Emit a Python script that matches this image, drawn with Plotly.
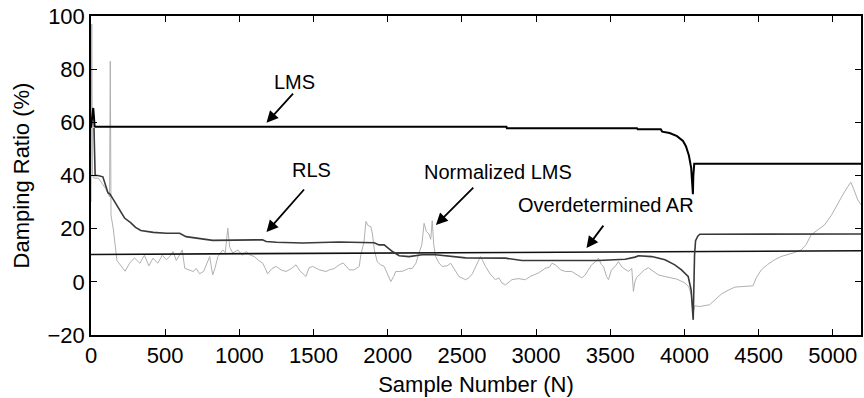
import plotly.graph_objects as go

# ---------------- data ----------------
lms_x = [0, 8, 15, 20, 24, 30, 2800, 2803, 3680, 3685, 3840, 3850, 3900, 3950,
         3990, 4010, 4030, 4045, 4052, 4057, 4060, 4063, 4066, 5190]
lms_y = [58, 62, 65.4, 62, 58.5, 58.3, 58.3, 57.8, 57.8, 57.4, 57.4, 56.5, 56, 54.8,
         53, 51, 47.5, 43, 38, 33, 40, 44.2, 44.4, 44.4]

rls_x = [20, 24, 28, 47, 80, 114, 128, 150, 181, 200, 226, 269, 300, 336, 420, 508,
         598, 640, 699, 820, 1156, 1181, 1250, 1425, 1673, 1909, 1942, 1976, 2032,
         2077, 2144, 2232, 2323, 2525, 2794, 2905, 3420, 3535, 3600, 3667, 3690,
         3780, 3869, 3935, 3980, 4025, 4045, 4059, 4063, 4068, 4075, 4090, 4103, 5190]
rls_y = [58, 45, 40, 40, 39.5, 33.5, 33, 31, 28.3, 26.5, 24, 22.2, 20.5, 19.3, 18.6, 18.3,
         18.3, 17, 16.5, 15.6, 15.8, 15.2, 14.9, 14.6, 15.0, 14.7, 13.9, 13.9, 11.4,
         9.8, 9.5, 10.2, 10.2, 9.0, 8.9, 8.0, 8.0, 8.3, 8.5, 9.3, 9.8,
         9.5, 8.3, 6.4, 4.5, 2.0, -3, -14.3, -2, 10, 15.5, 17.2, 17.9, 18.0]

ar_x = [0, 5190]
ar_y = [10.3, 11.7]

nlms_x = [0, 5, 10, 20, 50, 100, 125, 130, 135, 150, 175, 200, 230, 260, 293, 329,
          360, 390, 418, 450, 480, 508, 530, 553, 575, 598, 615, 632, 660, 688, 710,
          732, 760, 800, 810, 820, 835, 855, 888, 905, 922, 935, 956, 990, 1020, 1046,
          1075, 1102, 1130, 1158, 1175, 1190, 1220, 1248, 1280, 1315, 1350, 1382, 1410,
          1449, 1470, 1494, 1540, 1584, 1606, 1640, 1673, 1700, 1741, 1774, 1808, 1819,
          1840, 1853, 1870, 1886, 1897, 1910, 1929, 1950, 1976, 2000, 2021, 2040, 2054,
          2077, 2100, 2121, 2140, 2166, 2190, 2211, 2230, 2245, 2260, 2278, 2290, 2300,
          2310, 2323, 2345, 2367, 2400, 2424, 2450, 2480, 2525, 2547, 2570, 2592, 2610,
          2625, 2640, 2659, 2690, 2726, 2749, 2770, 2794, 2837, 2880, 2928, 2960, 2995,
          3018, 3062, 3090, 3107, 3130, 3166, 3197, 3240, 3270, 3308, 3330, 3353, 3374,
          3400, 3420, 3440, 3454, 3475, 3488, 3508, 3533, 3555, 3580, 3622, 3645, 3656,
          3666, 3676, 3700, 3730, 3757, 3790, 3824, 3870, 3911, 3950, 4003, 4030, 4046,
          4058, 4070, 4103, 4170, 4210, 4249, 4300, 4340, 4383, 4420, 4462, 4484, 4500,
          4518, 4560, 4608, 4650, 4698, 4740, 4787, 4820, 4854, 4900, 4944, 4990, 5034,
          5070, 5101, 5121, 5140, 5168, 5190]
nlms_y = [30, 97, 40, 39, 39, 35, 32, 83, 25, 20, 8, 6, 4, 7, 9, 7,
          10, 6, 8.9, 7, 10, 8.3, 9.5, 11.4, 8, 10.2, 12, 5.1, 4.5, 3.9, 5,
          3.0, 4, 9.5, 6, 2.6, 5, 9.5, 12, 11, 20.2, 13, 10.8, 12, 10, 11.4,
          10, 9.5, 8, 7, 5, 3, 5, 5.8, 4.5, 3.9, 5, 6.4, 4,
          2, 5.3, 5.8, 4.5, 3.9, 4.5, 5, 6.4, 7.1, 4.5, 4.5, 5.8, 10.2,
          15, 22.7, 21, 20.8, 18, 12, 7.6, 6.5, 5.8, 3, 0.1, 2, 3.9,
          3.9, 4, 4.5, 5, 5.1, 7, 10.8, 14, 22, 19, 18, 16, 23,
          14, 9.5, 7.1, 5.8, 6, 7, 4.5, 2, 0.8, 1.5, 3, 5.8, 8,
          9.5, 8, 5.8, 3, 0.8, 1.5, -0.5, -1.1, 0.8, 1.2, 0.8, 2, 3,
          3.4, 5.1, 5.5, 7, 6.4, 4.5, 3.9, 3.9, 2.8, 1.5, 2.5, 4.5, 6.4,
          7.5, 8.9, 6.5, 5.8, 2, 0.8, 4.5, 5.8, 7.6, 5.5, 3.9, 5, -3.6,
          0, 1.5, 3, 4.5, 5.3, 4, 2.6, 2, 1.5, 1, -0.4, -2, -5,
          -12, -9, -9.3, -8.6, -6.5, -4.6, -3, -2, -1.8, -1.6, -1.5, 1.5, 3,
          4.5, 6.5, 8.3, 9.5, 10.2, 11, 12, 14, 17.7, 19.5, 21.4, 25, 29.6,
          33, 35.8, 37.5, 35, 30.8, 29]

x_ticks = [0, 500, 1000, 1500, 2000, 2500, 3000, 3500, 4000, 4500, 5000]
y_ticks = [-20, 0, 20, 40, 60, 80, 100]

labels = ["LMS", "RLS", "Normalized LMS", "Overdetermined AR"]
label_pos = [(1371, 75.2), (1485, 42.1), (2742, 41.4), (3468, 28.9)]
arrow_tail = [(1371, 71.4), (1445, 35.3), (2587, 36.0), (3461, 21.7)]
arrow_head = [(1183, 59.8), (1183, 18.7), (2325, 21.4), (3340, 12.7)]

# ---------------- figure ----------------
FONT = "Arial, Liberation Sans, Helvetica, sans-serif"
fig = go.Figure()
fig.add_trace(go.Scatter(x=nlms_x, y=nlms_y, mode="lines",
                         line=dict(color="#b0b0b0", width=1), showlegend=False))
fig.add_trace(go.Scatter(x=ar_x, y=ar_y, mode="lines",
                         line=dict(color="#111111", width=1.6), showlegend=False))
fig.add_trace(go.Scatter(x=rls_x, y=rls_y, mode="lines",
                         line=dict(color="#3a3a3a", width=1.6), showlegend=False))
fig.add_trace(go.Scatter(x=lms_x, y=lms_y, mode="lines",
                         line=dict(color="#000000", width=2), showlegend=False))

annotations = []
for txt, (tx, ty) in zip(labels, label_pos):
    annotations.append(dict(x=tx, y=ty, xref="x", yref="y", text=txt, showarrow=False,
                            font=dict(family=FONT, size=20, color="#000")))
for (tx, ty), (hx, hy) in zip(arrow_tail, arrow_head):
    annotations.append(dict(x=hx, y=hy, ax=tx, ay=ty, xref="x", yref="y",
                            axref="x", ayref="y", text="", showarrow=True,
                            arrowhead=2, arrowsize=1.3, arrowwidth=1.8,
                            arrowcolor="#000"))

fig.update_layout(
    width=864, height=398,
    margin=dict(l=91, r=1, t=16, b=63),
    paper_bgcolor="white", plot_bgcolor="white",
    font=dict(family=FONT, size=22, color="#000"),
    annotations=annotations,
)
fig.update_xaxes(range=[0, 5190], tickvals=x_ticks, ticks="inside", ticklen=6,
                 tickwidth=1.2, tickcolor="#000", showline=True, linecolor="#000",
                 linewidth=1.5, mirror="ticks", showgrid=False, zeroline=False,
                 tickfont=dict(size=22),
                 title=dict(text="Sample Number (N)", font=dict(size=22), standoff=9))
fig.update_yaxes(range=[-20, 100], tickvals=y_ticks, ticks="inside", ticklen=6,
                 tickwidth=1.2, tickcolor="#000", showline=True, linecolor="#000",
                 linewidth=1.5, mirror="ticks", showgrid=False, zeroline=False,
                 tickfont=dict(size=22),
                 title=dict(text="Damping Ratio (%)", font=dict(size=22), standoff=12))

fig.write_html("out.html")
